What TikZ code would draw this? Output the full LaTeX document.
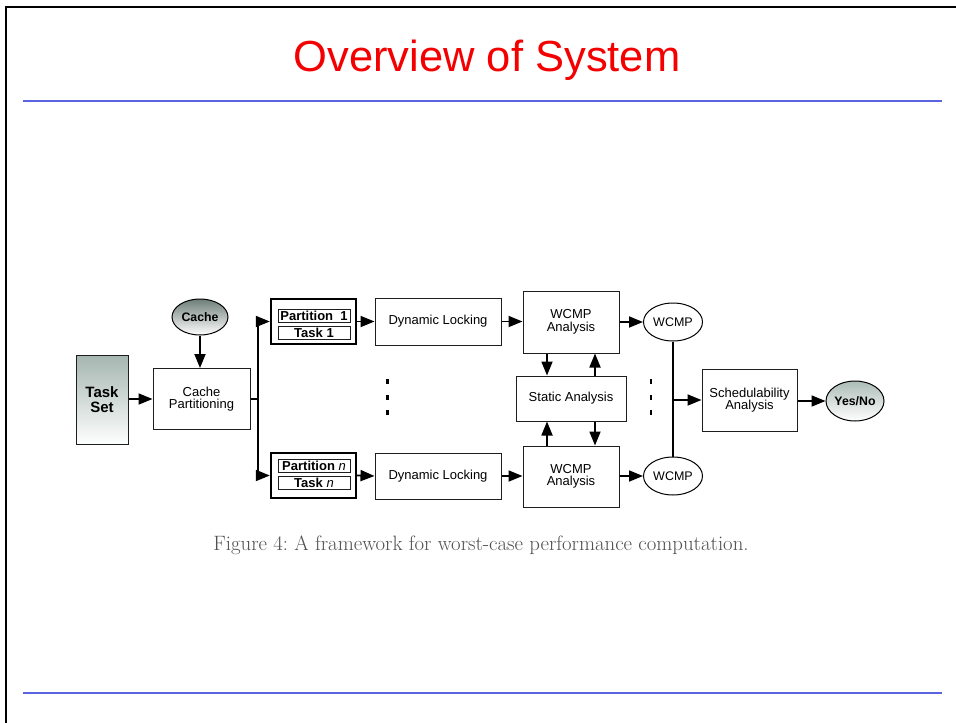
\documentclass[tikz,border=0pt]{standalone}
\usepackage{fontspec}
\newfontfamily\diagfont{Liberation Sans}
\newfontfamily\titlefont{Liberation Sans}
\usetikzlibrary{arrows.meta,shapes.geometric,calc}
\definecolor{slideblue}{RGB}{90,100,225}
\definecolor{titlered}{RGB}{245,0,0}
\definecolor{shadetop}{RGB}{165,182,176}
\definecolor{shadedark}{RGB}{110,126,120}
\definecolor{shadelight}{RGB}{172,188,182}
\definecolor{captiongray}{RGB}{80,80,80}
\definecolor{linegray}{RGB}{30,30,30}
\tikzset{
  box/.style={draw=linegray, line width=1pt, rectangle, align=center, inner sep=1pt,
    font=\diagfont\fontsize{13}{12.5}\selectfont},
  partbox/.style={draw, line width=2.4pt, rectangle, minimum width=85pt, minimum height=45pt},
  innerbox/.style={draw=linegray, line width=0.9pt, rectangle, minimum width=72pt, minimum height=13pt,
    inner sep=0pt, font=\diagfont\bfseries\fontsize{13}{12}\selectfont},
  blob/.style={draw, line width=1pt, ellipse, inner sep=0pt, align=center,
    font=\diagfont\bfseries\fontsize{12.3}{12}\selectfont},
  oval/.style={draw, line width=1pt, ellipse, inner sep=0pt,
    font=\diagfont\fontsize{12.5}{12}\selectfont},
  arr/.style={line width=1.8pt, -{Triangle[length=14pt,width=11pt]}},
  conn/.style={line width=1.8pt},
  rule/.style={slideblue, line width=2pt},
  dotmark/.style={fill=black}
}
\begin{document}
\begin{tikzpicture}[x=1pt,y=-1pt]
\useasboundingbox (0,0) rectangle (956,723);
\fill[white] (0,0) rectangle (956,723);
% frame
\draw[line width=2pt] (6,723) -- (6,7) -- (956,7);
% title and rules
\node[titlered, font=\titlefont\fontsize{43.5}{46}\selectfont] (title) at (487,60) {Overview of System};
\draw[rule] (23,101) -- (942,101);
\draw[rule] (23,693) -- (942,693);

% nodes
\node[box, minimum width=52pt, minimum height=89pt, top color=shadetop, bottom color=white,
  font=\diagfont\bfseries\fontsize{15}{15}\selectfont] (ts) at (102,400) {Task\\Set};
\node[blob, minimum width=56pt, minimum height=36pt, top color=shadedark, bottom color=white] (cache) at (200,317) {Cache};
\node[box, minimum width=97pt, minimum height=61pt] (cp) at (201.5,399) {Cache\\Partitioning};

\node[partbox] (p1) at (313.5,321.5) {};
\node[innerbox] (p1a) at (314,315.5) {Partition\ \ 1};
\node[innerbox] (p1b) at (314,332.5) {Task 1};
\node[partbox] (pn) at (313.5,475.5) {};
\node[innerbox] (pna) at (314,465.5) {Partition {\mdseries\itshape n}};
\node[innerbox] (pnb) at (314,482.5) {Task {\mdseries\itshape n}};

\node[box, minimum width=126pt, minimum height=47pt] (dl1) at (438,321.5) {Dynamic Locking};
\node[box, minimum width=126pt, minimum height=46pt] (dl2) at (438,476) {Dynamic Locking};

\node[box, minimum width=96pt, minimum height=62pt] (wa1) at (571,322) {WCMP\\Analysis};
\node[box, minimum width=96pt, minimum height=61pt] (wa2) at (571,476.5) {WCMP\\Analysis};
\node[box, minimum width=110pt, minimum height=45pt] (sa) at (571,398.5) {Static Analysis};

\node[oval, minimum width=59pt, minimum height=38pt] (e1) at (673,322) {WCMP};
\node[oval, minimum width=59pt, minimum height=38pt] (e2) at (673,476) {WCMP};

\node[box, minimum width=95pt, minimum height=62pt] (sch) at (749.5,400) {Schedulability\\Analysis};
\node[blob, minimum width=58pt, minimum height=40pt, top color=shadelight, bottom color=white] (yn) at (855,401) {Yes/No};

% connectors
\draw[arr] (ts.east |- cp.west) -- (cp.west);
\draw[arr] (cache.south) -- (cache.south |- cp.north);
\coordinate (br) at (258,399);
\draw[conn] (cp.east) -- (br);
\draw[conn] (br |- p1.west) -- (br |- pn.west);
\draw[arr] (br |- p1.west) -- (p1.west);
\draw[arr] (br |- pn.west) -- (pn.west);

\draw[arr] (p1.east) -- (dl1.west);
\draw[arr] (pn.east) -- (dl2.west);
\draw[arr] (dl1.east) -- (dl1.east -| wa1.west);
\draw[arr] (dl2.east) -- (dl2.east -| wa2.west);
\draw[arr] (wa1.east |- e1.west) -- (e1.west);
\draw[arr] (wa2.east |- e2.west) -- (e2.west);

\draw[arr] ($(wa1.south)+(-24,0)$) -- ($(sa.north)+(-24,0)$);
\draw[arr] ($(sa.north)+(24,0)$) -- ($(wa1.south)+(24,0)$);
\draw[arr] ($(wa2.north)+(-24,0)$) -- ($(sa.south)+(-24,0)$);
\draw[arr] ($(sa.south)+(24,0)$) -- ($(wa2.north)+(24,0)$);

\draw[conn] (e1.south) -- (e2.north);
\draw[arr] (e1 |- sch.west) -- (sch.west);
\draw[arr] (sch.east |- yn.west) -- (yn.west);

% vertical dots
\foreach \yy in {381,397,412} {
  \fill[dotmark] (386,\yy-2.5) rectangle (388.5,\yy+2.5);
  \fill[dotmark] (649.5,\yy-2.5) rectangle (652,\yy+2.5);
}

% caption
\node[captiongray, font=\fontsize{20.8}{22}\selectfont] (cap) at (481,545) {Figure 4:\ A framework for worst-case performance computation.};
\end{tikzpicture}
\end{document}
